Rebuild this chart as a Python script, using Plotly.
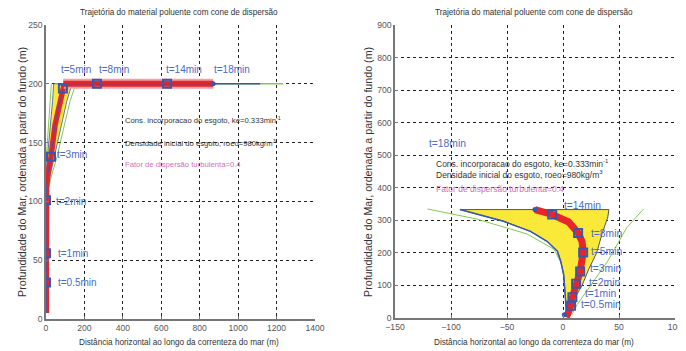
import plotly.graph_objects as go

# ---------------- data: left panel ----------------
traj_l_x = [2, 1, 0, 0, 3, 10, 26, 47, 68, 88, 95]
traj_l_y = [5, 30, 55, 100, 112, 124, 138, 165, 182, 196, 200]
horiz_l_x = [90, 300, 600, 870]
horiz_l_y = [200, 200, 200, 200]
blue_l_x = [90, 1115]
green_l_x = [90, 1234]
cone_l_y = [100, 112, 124, 138, 150, 165, 185, 200]
yel_l_left = [0, -2, 0, 8, 14, 24, 34, 40]
yel_l_right = [0, 10, 24, 46, 60, 80, 108, 135]
grn_l_left = [0, -4, -4, 2, 6, 14, 22, 28]
grn_l_right = [0, 14, 32, 58, 74, 95, 125, 155]
mk_l_x = [0, 0, 0, 26, 88, 265, 630]
mk_l_y = [31, 56, 101, 138, 196, 200, 200]
lab_l = ["t=0.5min", "t=1min", "t=2min", "t=3min", "t=5min", "t=8min", "t=14min", "t=18min"]
lab_l_x = [52, 52, 42, 47, 68, 265, 615, 865]
lab_l_y = [31, 56, 100, 140, 212, 212, 212, 212]

# ---------------- data: right panel ----------------
traj_r_x = [3, 5, 7.2, 8.4, 11.7, 15.3, 18, 17, 13.5, 5, -9.6, -25]
traj_r_y = [2, 20, 38, 64, 105, 143, 201, 235, 261, 295, 318, 333]
yel_r_x = [2, 10, 17, 23, 30, 35, 40, 41, -92, -53, -29, -14, -5, -2, 0.6, 2, 3, 2]
yel_r_y = [10, 60, 100, 150, 200, 260, 310, 333, 333, 297, 266, 235, 205, 174, 133, 72, 20, 10]
edge_r_x = [-92, -53, -29, -14, -5, -2, 0.6, 2, 3]
edge_r_y = [333, 297, 266, 235, 205, 174, 133, 72, 20]
grn_r1_x = [-121, -77, -32, -8, -1, 2, 4, 5]
grn_r1_y = [335, 304, 258, 211, 165, 103, 52, 20]
grn_r2_x = [72, 57, 40, 25, 12.6, 8]
grn_r2_y = [335, 278, 175, 103, 41, 10]
mk_r_x = [7.2, 8.4, 11.7, 15.3, 18, 13.5, -9.6]
mk_r_y = [38, 64, 105, 143, 201, 261, 318]
lab_r = ["t=0.5min", "t=1min", "t=2min", "t=3min", "t=5min", "t=8min", "t=14min", "t=18min"]
lab_r_x = [14, 18, 21, 22, 23, 23, -1, -121]
lab_r_y = [43, 74, 110, 153, 203, 261, 346, 537]

title_txt = "Trajetória do material poluente com cone de dispersão"
xlab_txt = "Distância horizontal ao longo da correnteza do mar (m)"
ylab_txt = "Profundidade do Mar, ordenada a partir do fundo (m)"
info_txt = ["Cons. incorporacao do esgoto, ke=0.333min<sup>-1</sup>",
            "Densidade inicial do esgoto, roeo=980kg/m<sup>3</sup>",
            "Fator de dispersão turbulenta=0.4"]
info_l_x = 400
info_l_y = [169, 150, 131]
info_r_x = -115
info_r_y = [475, 440, 396]

FONT = "Liberation Sans, Arial"
RED = "#e8262a"
BLUE = "#3558b0"
GREEN = "#86c84a"
YEL = "#fbe93a"
LBL = "#4a6cc4"

fig = go.Figure()

def add(tr):
    fig.add_trace(tr)

# ---- left panel ----
add(go.Scatter(x=grn_l_left, y=cone_l_y, mode="lines", line=dict(color=GREEN, width=1), xaxis="x", yaxis="y"))
add(go.Scatter(x=grn_l_right, y=cone_l_y, mode="lines", line=dict(color=GREEN, width=1), xaxis="x", yaxis="y"))
add(go.Scatter(x=yel_l_left + yel_l_right[::-1], y=cone_l_y + cone_l_y[::-1], mode="lines",
               fill="toself", fillcolor=YEL, line=dict(color=BLUE, width=0.8), xaxis="x", yaxis="y"))
add(go.Scatter(x=green_l_x, y=[200, 200], mode="lines", line=dict(color=GREEN, width=1.5), xaxis="x", yaxis="y"))
add(go.Scatter(x=blue_l_x, y=[200, 200], mode="lines", line=dict(color=BLUE, width=1.5), xaxis="x", yaxis="y"))
add(go.Scatter(x=traj_l_x, y=traj_l_y, mode="lines", line=dict(color=RED, width=5.5), xaxis="x", yaxis="y"))
add(go.Scatter(x=horiz_l_x, y=horiz_l_y, mode="lines", line=dict(color="#f4a0a4", width=10), xaxis="x", yaxis="y"))
add(go.Scatter(x=horiz_l_x, y=horiz_l_y, mode="lines", line=dict(color=RED, width=6), xaxis="x", yaxis="y"))
add(go.Scatter(x=traj_l_x + horiz_l_x, y=traj_l_y + horiz_l_y, mode="lines", line=dict(color=BLUE, width=0.8), xaxis="x", yaxis="y"))
add(go.Scatter(x=mk_l_x, y=mk_l_y, mode="markers",
               marker=dict(symbol="square-open", size=8, color=BLUE, line=dict(width=2, color=BLUE)), xaxis="x", yaxis="y"))
add(go.Scatter(x=[horiz_l_x[-1]], y=[horiz_l_y[-1]], mode="markers",
               marker=dict(symbol="circle", size=5, color=BLUE), xaxis="x", yaxis="y"))

# ---- right panel ----
add(go.Scatter(x=grn_r1_x, y=grn_r1_y, mode="lines", line=dict(color=GREEN, width=1), xaxis="x2", yaxis="y2"))
add(go.Scatter(x=grn_r2_x, y=grn_r2_y, mode="lines", line=dict(color=GREEN, width=1), xaxis="x2", yaxis="y2"))
add(go.Scatter(x=yel_r_x, y=yel_r_y, mode="lines", fill="toself", fillcolor=YEL,
               line=dict(color="#555555", width=1), xaxis="x2", yaxis="y2"))
add(go.Scatter(x=edge_r_x, y=edge_r_y, mode="lines", line=dict(color=BLUE, width=1.5), xaxis="x2", yaxis="y2"))
add(go.Scatter(x=traj_r_x, y=traj_r_y, mode="lines", line=dict(color=RED, width=7), xaxis="x2", yaxis="y2"))
add(go.Scatter(x=mk_r_x, y=mk_r_y, mode="markers",
               marker=dict(symbol="square-open", size=8, color=BLUE, line=dict(width=2, color=BLUE)), xaxis="x2", yaxis="y2"))
add(go.Scatter(x=[traj_r_x[-1], 1.2], y=[traj_r_y[-1], 10], mode="markers",
               marker=dict(symbol="circle", size=5, color=BLUE), xaxis="x2", yaxis="y2"))

ann = []
for t, x, y in zip(lab_l, lab_l_x, lab_l_y):
    ann.append(dict(x=x, y=y, xref="x", yref="y", text=t, showarrow=False, xanchor="left", yanchor="middle",
                    font=dict(family=FONT, size=10, color=LBL)))
for t, x, y in zip(lab_r, lab_r_x, lab_r_y):
    ann.append(dict(x=x, y=y, xref="x2", yref="y2", text=t, showarrow=False, xanchor="left", yanchor="middle",
                    font=dict(family=FONT, size=10.3, color=LBL)))
cols = ["#333333", "#333333", "#d070b8"]
for t, y, c in zip(info_txt, info_l_y, cols):
    ann.append(dict(x=info_l_x, y=y, xref="x", yref="y", text=t, showarrow=False, xanchor="left", yanchor="middle",
                    font=dict(family=FONT, size=7.7, color=c)))
for t, y, c in zip(info_txt, info_r_y, cols):
    ann.append(dict(x=info_r_x, y=y, xref="x2", yref="y2", text=t, showarrow=False, xanchor="left", yanchor="middle",
                    font=dict(family=FONT, size=8.5, color=c)))

# page body has an 8px margin: layout pixel positions are shifted by -8
W, H = 686, 351
OFF = 8
def px(v):
    return (v - OFF) / W
def py(v):
    return 1 - (v - OFF) / H

for cx in (179, 534):
    ann.append(dict(x=px(cx), y=py(13), xref="paper", yref="paper", text=title_txt, showarrow=False,
                    xanchor="center", yanchor="middle",
                    font=dict(family=FONT, size=8.2, color="#333333")))
    ann.append(dict(x=px(cx), y=py(342), xref="paper", yref="paper", text=xlab_txt, showarrow=False,
                    xanchor="center", yanchor="middle",
                    font=dict(family=FONT, size=8.2, color="#333333")))
for cx in (22, 368):
    ann.append(dict(x=px(cx), y=py(172), xref="paper", yref="paper", text=ylab_txt, showarrow=False,
                    xanchor="center", yanchor="middle",
                    textangle=-90, font=dict(family=FONT, size=10.7, color="#333333")))

axis_common = dict(showgrid=True, gridcolor="#222222", griddash="dot", gridwidth=1,
                   zeroline=False, showline=True, linecolor="#777777", linewidth=1.5,
                   ticks="inside", ticklen=3, tickcolor="#777777", automargin=False,
                   tickfont=dict(family=FONT, size=8.6, color="#555555"))

fig.update_layout(
    width=W, height=H, margin=dict(l=0, r=0, t=0, b=0, pad=0, autoexpand=False),
    paper_bgcolor="white", plot_bgcolor="white", showlegend=False,
    xaxis=dict(domain=[px(46), px(315)], range=[0, 1400], dtick=200, anchor="y", **axis_common),
    yaxis=dict(domain=[py(319), py(25)], range=[0, 250], dtick=50, anchor="x", **axis_common),
    xaxis2=dict(domain=[px(395), px(675)], range=[-150, 100], dtick=50, anchor="y2", **axis_common),
    yaxis2=dict(domain=[py(318), py(25)], range=[0, 900], dtick=100, anchor="x2", **axis_common),
    annotations=ann,
)

fig.write_html("out.html")
